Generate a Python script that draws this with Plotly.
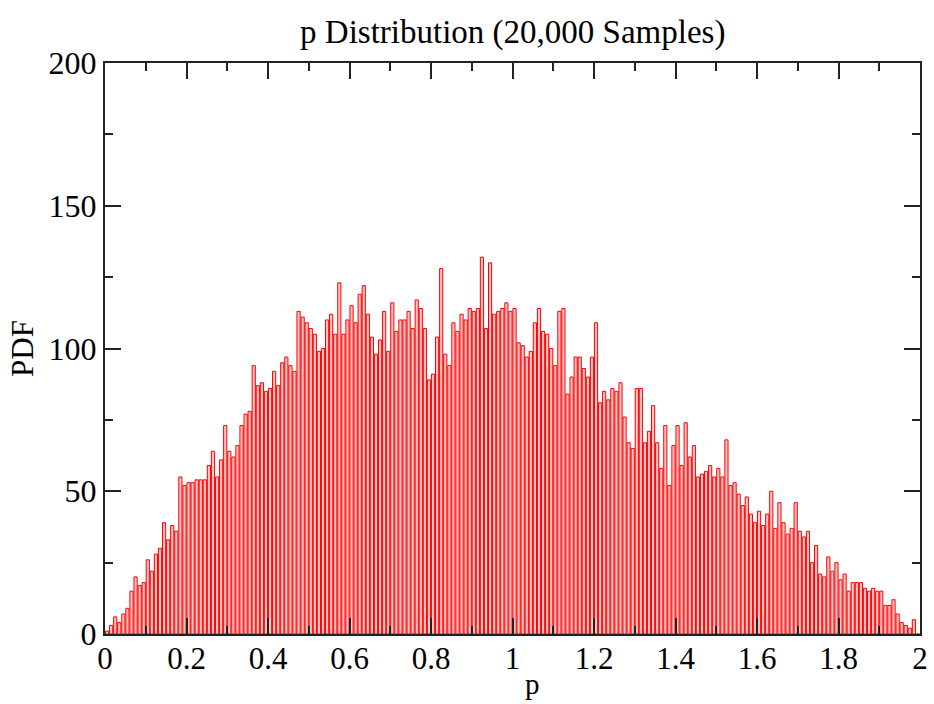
import plotly.graph_objects as go

bin_width = 0.01
counts = [
    1, 3, 6, 4, 7, 9, 15, 20, 17, 18,
    26, 22, 28, 30, 39, 33, 38, 36, 55, 52,
    53, 53, 54, 54, 54, 59, 64, 55, 61, 73,
    64, 62, 66, 73, 77, 78, 94, 87, 88, 85,
    86, 92, 87, 95, 97, 94, 92, 113, 111, 109,
    107, 105, 99, 100, 110, 112, 105, 123, 105, 110,
    115, 109, 119, 122, 112, 104, 98, 103, 113, 99,
    116, 106, 110, 110, 113, 107, 117, 114, 107, 89,
    91, 104, 128, 98, 94, 109, 106, 112, 110, 114,
    113, 114, 132, 107, 130, 112, 113, 114, 116, 113,
    114, 102, 101, 97, 99, 109, 114, 106, 105, 100,
    94, 113, 114, 84, 90, 97, 97, 93, 90, 97,
    109, 81, 85, 82, 86, 85, 88, 76, 67, 65,
    86, 86, 67, 71, 80, 67, 58, 73, 52, 66,
    73, 59, 74, 62, 66, 55, 56, 57, 59, 55,
    58, 55, 68, 52, 53, 49, 45, 48, 42, 39,
    43, 38, 42, 50, 37, 46, 39, 35, 37, 46,
    36, 34, 36, 25, 31, 21, 20, 27, 22, 25,
    19, 21, 15, 18, 18, 18, 16, 15, 16, 15,
    15, 10, 10, 12, 7, 4, 3, 2, 5, 0,
]
centers = [bin_width * (i + 0.5) for i in range(len(counts))]

title_text = "p Distribution (20,000 Samples)"
x_title = "p"
y_title = "PDF"

fig = go.Figure()
fig.add_trace(go.Bar(
    x=centers, y=counts,
    marker=dict(color="#ffc4c4", line=dict(color="#ff0000", width=1)),
    showlegend=False,
))

font_family = "Liberation Serif, Times New Roman, serif"
axis_common = dict(
    showline=True, linecolor="#222222", linewidth=2, mirror="ticks",
    ticks="inside", ticklen=16, tickwidth=1.5, tickcolor="#222222",
    showgrid=False, zeroline=False, automargin=False,
)

fig.update_layout(
    width=934, height=704,
    margin=dict(l=105, r=14, t=63, b=70),
    paper_bgcolor="white", plot_bgcolor="white",
    bargap=0.22,
    title=dict(text=title_text, x=0.549, xanchor="center", y=0.955, yanchor="middle",
               font=dict(family=font_family, size=33, color="black")),
    xaxis=dict(range=[0, 2], dtick=0.2, tick0=0, ticklabelstandoff=-4,
               tickfont=dict(family=font_family, size=31, color="black"),
               minor=dict(ticks="inside", ticklen=8, dtick=0.1, tickwidth=1.5, tickcolor="#222222"),
               **axis_common),
    yaxis=dict(range=[0, 200], dtick=50, tick0=0,
               tickfont=dict(family=font_family, size=32, color="black"),
               minor=dict(ticks="inside", ticklen=8, dtick=25, tickwidth=1.5, tickcolor="#222222"),
               title=dict(text=y_title, font=dict(family=font_family, size=31, color="black"), standoff=6),
               **axis_common),
    annotations=[dict(text=x_title, xref="paper", yref="paper", x=0.5125, y=-0.0876,
                      xanchor="left", yanchor="middle", showarrow=False,
                      font=dict(family=font_family, size=29, color="black"))],
)

fig.write_html("out.html")
